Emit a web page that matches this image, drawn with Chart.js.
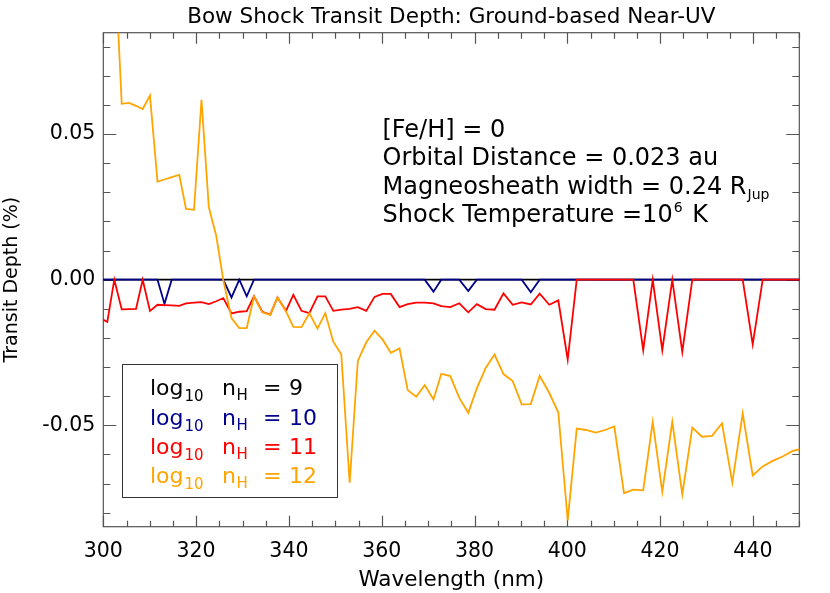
<!DOCTYPE html>
<html>
<head>
<meta charset="utf-8">
<script src="https://cdn.jsdelivr.net/npm/chart.js@4.4.1/dist/chart.umd.min.js"></script>
<style>
html,body{margin:0;padding:0;background:#fff;}
canvas{display:block;}
</style>
</head>
<body>
<canvas id="c" width="830" height="593"></canvas>
<script>
// ---------------- data ----------------
const wavelength = [
  299.35, 300.86, 302.37, 303.97, 305.54, 307.05, 308.49, 310.06, 311.68, 313.19,
  314.74, 316.38, 317.82, 319.55, 321.16, 322.74, 324.35, 325.86, 327.63, 329.31,
  330.91, 332.48, 334.27, 335.99, 337.54, 339.38, 340.95, 342.72, 344.40, 346.16,
  347.84, 349.57, 351.29, 353.10, 354.85, 356.68, 358.45, 360.17, 361.96, 363.84,
  365.60, 367.43, 369.27, 371.16, 372.84, 374.78, 376.72, 378.66, 380.50, 382.41,
  384.31, 386.25, 388.23, 390.17, 392.13, 394.05, 396.12, 398.06, 400.09, 402.03,
  404.03, 406.12, 408.13, 410.13, 412.22, 414.22, 416.36, 418.41, 420.47, 422.63,
  424.78, 426.94, 429.03, 431.19, 433.34, 435.56, 437.80, 439.96, 442.11, 444.27,
  446.42, 448.58, 450.73
];

const depthLogN9 = [
  0, 0, 0, 0, 0, 0, 0, 0, 0, 0,
  0, 0, 0, 0, 0, 0, 0, 0, 0, 0,
  0, 0, 0, 0, 0, 0, 0, 0, 0, 0,
  0, 0, 0, 0, 0, 0, 0, 0, 0, 0,
  0, 0, 0, 0, 0, 0, 0, 0, 0, 0,
  0, 0, 0, 0, 0, 0, 0, 0, 0, 0,
  0, 0, 0, 0, 0, 0, 0, 0, 0, 0,
  0, 0, 0, 0, 0, 0, 0, 0, 0, 0,
  0, 0, 0
];

const depthLogN10 = [
  0, 0, 0, 0, 0, 0, 0, 0, 0, -0.0083,
  0, 0, 0, 0, 0, 0, 0, 0, -0.0061, 0,
  -0.0057, 0, 0, 0, 0, 0, 0, 0, 0, 0,
  0, 0, 0, 0, 0, 0, 0, 0, 0, 0,
  0, 0, 0, -0.0041, 0, 0, 0, -0.0039, 0, 0,
  0, 0, 0, 0, -0.0043, 0, 0, 0, 0, 0,
  0, 0, 0, 0, 0, 0, 0, 0, 0, 0,
  0, 0, 0, 0, 0, 0, 0, 0, 0, 0,
  0, 0, 0
];

const depthLogN11 = [
  -0.0132, -0.0145, 0, -0.0102, -0.0101, -0.0100, 0, -0.0107, -0.0086, -0.0087,
  -0.0088, -0.0090, -0.0081, -0.0079, -0.0077, -0.0084, -0.0074, -0.0063, -0.0116, -0.0110,
  -0.0108, -0.0057, -0.0110, -0.0120, -0.0061, -0.0107, -0.0052, -0.0107, -0.0115, -0.0057,
  -0.0057, -0.0107, -0.0103, -0.0100, -0.0094, -0.0107, -0.0059, -0.0049, -0.0049, -0.0094,
  -0.0084, -0.0079, -0.0079, -0.0081, -0.0091, -0.0094, -0.0081, -0.0112, -0.0084, -0.0101,
  -0.0103, -0.0047, -0.0086, -0.0078, -0.0085, -0.0048, -0.0086, -0.0071, -0.0274, 0,
  0, 0, 0, 0, 0, 0, -0.0242, 0, -0.0242, 0,
  -0.0248, 0, 0, 0, 0, 0, 0, -0.0222, 0, 0,
  0, 0, 0
];

const depthLogN12 = [
  0.130, 0.125, 0.114, 0.0604, 0.0607, 0.0597, 0.0586, 0.0632, 0.0337, 0.0344,
  0.0352, 0.0360, 0.0243, 0.0240, 0.0618, 0.0249, 0.0150, -0.0001, -0.0132, -0.0166,
  -0.0166, -0.0058, -0.0112, -0.0121, -0.0061, -0.0109, -0.0162, -0.0163, -0.0115, -0.0168,
  -0.0115, -0.0213, -0.0256, -0.0697, -0.0279, -0.0215, -0.0175, -0.0205, -0.0251, -0.0236,
  -0.0379, -0.0402, -0.0362, -0.0411, -0.0323, -0.0331, -0.0406, -0.0457, -0.0373, -0.0303,
  -0.0257, -0.0324, -0.0348, -0.0428, -0.0427, -0.0330, -0.0389, -0.0456, -0.0826, -0.0511,
  -0.0516, -0.0525, -0.0516, -0.0504, -0.0733, -0.0721, -0.0723, -0.0488, -0.0728, -0.0488,
  -0.0737, -0.0508, -0.0539, -0.0536, -0.0493, -0.0697, -0.0459, -0.0672, -0.0641, -0.0622,
  -0.0607, -0.0588, -0.0580
];

const seriesValues = [depthLogN9, depthLogN10, depthLogN11, depthLogN12];
const seriesDensity = ['9', '10', '11', '12'];
const xTickValues = [300, 320, 340, 360, 380, 400, 420, 440];
const xTickLabels = ['300', '320', '340', '360', '380', '400', '420', '440'];
const yTickValues = [-0.05, 0, 0.05];
const yTickLabels = ['-0.05', '0.00', '0.05'];

const titleText = 'Bow Shock Transit Depth: Ground-based Near-UV';
const xTitle = 'Wavelength (nm)';
const yTitle = 'Transit Depth (%)';

// ---------------- styles ----------------
const FONT = '"DejaVu Sans", sans-serif';
const seriesColors = ['#000000', '#00008B', '#FF0000', '#FFA500'];
const axisColor = '#555555';

// ---------------- plugins ----------------
const idlFrame = {
  id: 'idlFrame',
  beforeDatasetsDraw(chart) {
    const {ctx, chartArea: a, scales: {x, y}} = chart;
    ctx.save();
    ctx.strokeStyle = axisColor;
    ctx.lineWidth = 1.2;
    ctx.beginPath();
    for (let v = 300; v <= 450; v += 5) {
      const px = Math.round(x.getPixelForValue(v)) + 0.5;
      const len = (v % 20 === 0) ? 11 : 6;
      ctx.moveTo(px, a.bottom); ctx.lineTo(px, a.bottom - len);
      ctx.moveTo(px, a.top); ctx.lineTo(px, a.top + len);
    }
    for (let k = -8; k <= 8; k++) {
      const py = Math.round(y.getPixelForValue(k / 100)) + 0.5;
      const len = (k % 5 === 0) ? 13 : 7;
      ctx.moveTo(a.left, py); ctx.lineTo(a.left + len, py);
      ctx.moveTo(a.right, py); ctx.lineTo(a.right - len, py);
    }
    ctx.stroke();
    ctx.strokeRect(a.left, a.top, a.right - a.left, a.bottom - a.top);
    ctx.restore();
  },
  afterDraw(chart) {
    const {ctx, chartArea: a} = chart;
    ctx.save();
    ctx.fillStyle = '#000';
    ctx.textBaseline = 'alphabetic';
    // title
    ctx.font = '21.5px ' + FONT;
    ctx.textAlign = 'center';
    ctx.fillText(titleText, (a.left + a.right) / 2, 23);

    // annotation block
    ctx.textAlign = 'left';
    const big = '24px ' + FONT, small = '14px ' + FONT;
    const ax = 382.5;
    const rows = [136.5, 165, 193.5, 222];
    ctx.font = big;
    ctx.fillText('[Fe/H] = 0', ax, rows[0]);
    ctx.fillText('Orbital Distance = 0.023 au', ax, rows[1]);
    let t = 'Magneosheath width = 0.24 R';
    ctx.fillText(t, ax, rows[2]);
    let w = ctx.measureText(t).width;
    ctx.font = small;
    ctx.fillText('Jup', ax + w + 1, rows[2] + 5);
    ctx.font = big;
    t = 'Shock Temperature =10';
    ctx.fillText(t, ax, rows[3]);
    w = ctx.measureText(t).width;
    ctx.font = small;
    ctx.fillText('6', ax + w + 1, rows[3] - 10);
    const w6 = ctx.measureText('6').width;
    ctx.font = big;
    ctx.fillText(' K', ax + w + w6 + 3, rows[3]);

    // legend box
    const bx = 122.5, by = 364.5, bw = 215, bh = 133;
    ctx.strokeStyle = '#333';
    ctx.lineWidth = 1;
    ctx.strokeRect(bx, by, bw, bh);
    const lrows = [395, 424.5, 454, 483];
    const lbig = '22px ' + FONT, lsmall = '15px ' + FONT;
    for (let i = 0; i < seriesDensity.length; i++) {
      ctx.fillStyle = seriesColors[i];
      const yb = lrows[i];
      let xx = 150;
      ctx.font = lbig;
      ctx.fillText('log', xx, yb);
      xx += ctx.measureText('log').width + 1;
      ctx.font = lsmall;
      ctx.fillText('10', xx, yb + 6);
      ctx.font = lbig;
      ctx.fillText('n', 222, yb);
      ctx.font = lsmall;
      ctx.fillText('H', 236.5, yb + 5);
      ctx.font = lbig;
      ctx.fillText('=', 263, yb);
      ctx.fillText(seriesDensity[i], 289, yb);
    }
    ctx.restore();
  }
};

// ---------------- chart ----------------
const orders = [3, 2, 1, 0];
const datasets = seriesValues.map((vals, i) => ({
  label: 'log10 nH = ' + seriesDensity[i],
  data: wavelength.map((wl, j) => ({x: wl, y: vals[j]})),
  borderColor: seriesColors[i],
  backgroundColor: seriesColors[i],
  borderWidth: 1.8,
  pointRadius: 0,
  tension: 0,
  fill: false,
  order: orders[i],
  clip: 0
}));

new Chart(document.getElementById('c'), {
  type: 'line',
  data: {datasets},
  plugins: [idlFrame],
  options: {
    responsive: false,
    animation: false,
    devicePixelRatio: 1,
    layout: {padding: {top: 32.7, right: 30.7, left: 0, bottom: 0}},
    plugins: {legend: {display: false}, tooltip: {enabled: false}, title: {display: false}},
    scales: {
      x: {
        type: 'linear',
        min: 300, max: 450,
        afterBuildTicks: s => { s.ticks = xTickValues.map(v => ({value: v})); },
        afterFit: s => { s.height = 66.3; },
        grid: {display: false, drawTicks: false},
        border: {display: false},
        ticks: {
          color: '#000', padding: 13, maxRotation: 0, autoSkip: false,
          font: {family: FONT, size: 20.5},
          callback: (v, i) => xTickLabels[i]
        },
        title: {display: true, text: xTitle, color: '#000', font: {family: FONT, size: 21.5}, padding: {top: 0, bottom: 0}}
      },
      y: {
        type: 'linear',
        min: -0.0848, max: 0.0848,
        afterBuildTicks: s => { s.ticks = yTickValues.map(v => ({value: v})); },
        afterFit: s => { s.width = 103.3; },
        grid: {display: false, drawTicks: false},
        border: {display: false},
        ticks: {
          color: '#000', padding: 8, autoSkip: false,
          font: {family: FONT, size: 20.5},
          callback: (v, i) => yTickLabels[i]
        },
        title: {display: true, text: yTitle, color: '#000', font: {family: FONT, size: 19}, padding: {top: 1, bottom: 0}}
      }
    }
  }
});
</script>
</body>
</html>
